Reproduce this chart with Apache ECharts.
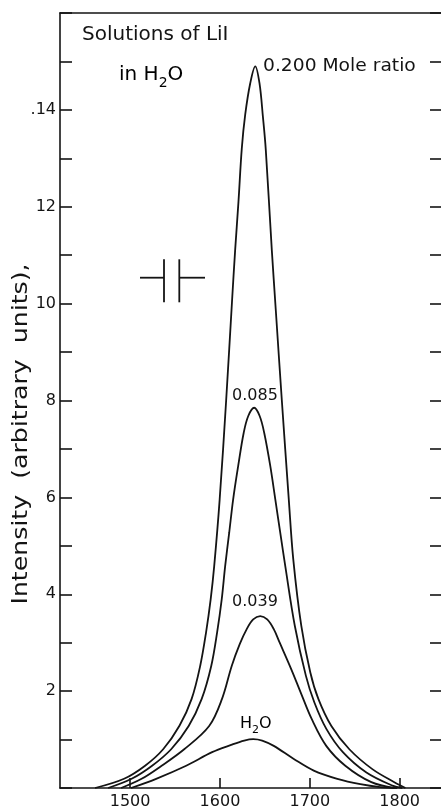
<!DOCTYPE html>
<html>
<head>
<meta charset="utf-8">
<script src="https://cdn.jsdelivr.net/npm/echarts@6/dist/echarts.min.js"></script>
<style>
  html, body { margin: 0; padding: 0; background: #fff; }
  #chart { width: 441px; height: 810px; }
</style>
</head>
<body>
<div id="chart"></div>
<script>
// Raman band of water near 1640 cm-1 for LiI solutions of increasing mole ratio.
// Wavenumbers (cm-1) and intensities (arbitrary units) for each trace.
const wn200  = [1461, 1493.3, 1516.7, 1536.8, 1555.1, 1568.5, 1578, 1584.6, 1589.7, 1593.6, 1599.7, 1606.9, 1613.6, 1616.9, 1620.6, 1624.3, 1628.1, 1633.7, 1639.3,
                1644, 1647.8, 1651, 1657.7, 1662.1, 1668.8, 1676.6, 1681.6, 1690.5, 1700.5, 1709.5, 1724, 1744, 1769.6, 1794.1, 1806.4];
const int200 = [0, 0.19, 0.46, 0.80, 1.29, 1.84, 2.52, 3.22, 3.90, 4.58, 5.96, 8.0, 10.1, 11.1, 12.1, 13.2, 13.9, 14.55, 14.9,
                14.55, 13.86, 13.18, 11.11, 9.88, 8.02, 5.96, 4.72, 3.35, 2.39, 1.84, 1.28, 0.80, 0.39, 0.12, 0];

const wn085  = [1475.5, 1501.7, 1524.5, 1545.7, 1565.2, 1579.7, 1590.3, 1596.9, 1602, 1605.8, 1610.3, 1614.7, 1620.3, 1626.4, 1631.5, 1638.1,
                1644.2, 1649.3, 1656, 1661.6, 1667.1, 1672.7, 1683.3, 1695.6, 1705, 1718.4, 1736.8, 1763, 1791.9, 1803];
const int085 = [0, 0.19, 0.46, 0.80, 1.28, 1.84, 2.52, 3.22, 3.90, 4.58, 5.27, 5.96, 6.65, 7.33, 7.68, 7.85,
                7.68, 7.33, 6.65, 5.96, 5.27, 4.58, 3.35, 2.32, 1.77, 1.22, 0.74, 0.32, 0.05, 0];

const wn039  = [1490, 1512.8, 1535.1, 1560.2, 1588, 1602.3, 1613.1, 1622, 1629.8, 1637, 1644.8,
                1652.6, 1659.9, 1666.5, 1679.4, 1689.9, 1702.2, 1718.3, 1739.5, 1768.5, 1794.1];
const int039 = [0, 0.19, 0.46, 0.80, 1.28, 1.84, 2.52, 2.97, 3.28, 3.48, 3.55,
                3.48, 3.28, 3.0, 2.45, 1.97, 1.42, 0.87, 0.46, 0.12, 0];

const wnH2O  = [1501, 1529, 1562.4, 1591.3, 1612.5, 1627, 1637, 1647, 1659.9, 1682.2, 1704.4, 1730.6, 1756.2, 1778.5, 1797.4];
const intH2O = [0, 0.19, 0.46, 0.74, 0.89, 0.98, 1.01, 0.98, 0.87, 0.60, 0.36, 0.19, 0.08, 0.02, 0];

// Axis ticks and labels
const xTickValues = [1500, 1600, 1700, 1800];
const yLabelValues = [2, 4, 6, 8, 10, 12, 14];
const yLabelTexts = ['2', '4', '6', '8', '10', '12', '.14'];

const FONT = 'DejaVu Sans';
const INK = '#141414';
const X_MIN = 1422, X_MAX = 1846;
const AXIS_LINE = { show: true, onZero: false, lineStyle: { color: INK, width: 1.6 } };

const pairs = (xs, ys) => xs.map((x, i) => [x, ys[i]]);

function trace(name, xs, ys) {
  return {
    name: name,
    type: 'line',
    data: pairs(xs, ys),
    smooth: 0.35,
    symbol: 'none',
    lineStyle: { color: INK, width: 1.8 },
    animation: false,
    silent: true
  };
}

const chart = echarts.init(document.getElementById('chart'), null, { renderer: 'canvas' });

const subRich = function (size, shift) {
  return {
    n: { fontFamily: FONT, fontSize: size, color: INK },
    s: { fontFamily: FONT, fontSize: Math.round(size * 0.68), color: INK, padding: [shift, 0, 0, 0] }
  };
};

chart.setOption({
  backgroundColor: '#fff',
  animation: false,
  grid: { left: 60, right: 0, top: 13, bottom: 21, show: false },
  xAxis: [
    {
      type: 'value',
      min: X_MIN, max: X_MAX,
      axisLine: AXIS_LINE,
      axisTick: { show: true, inside: true, length: 10, customValues: xTickValues, lineStyle: { color: INK, width: 1.6 } },
      axisLabel: {
        customValues: xTickValues, margin: 6, color: INK, fontFamily: FONT, fontSize: 16,
        formatter: function (v) { return String(v); }
      },
      splitLine: { show: false }
    },
    {
      // top frame edge
      type: 'value',
      position: 'top',
      min: X_MIN, max: X_MAX,
      axisLine: AXIS_LINE,
      axisTick: { show: false },
      axisLabel: { show: false },
      splitLine: { show: false }
    }
  ],
  yAxis: [
    {
      type: 'value',
      min: 0, max: 16, interval: 1,
      axisLine: AXIS_LINE,
      axisTick: { show: true, inside: true, length: 12, lineStyle: { color: INK, width: 1.6 } },
      axisLabel: {
        margin: 4, color: INK, fontFamily: FONT, fontSize: 16,
        showMinLabel: true, showMaxLabel: true,
        formatter: function (v) {
          const k = yLabelValues.indexOf(v);
          return k >= 0 ? yLabelTexts[k] : '';
        }
      },
      splitLine: { show: false }
    },
    {
      type: 'value',
      position: 'right',
      min: 0, max: 16, interval: 1,
      axisLine: { show: false },
      axisTick: { show: true, inside: true, length: 11, lineStyle: { color: INK, width: 1.6 } },
      axisLabel: { show: false },
      splitLine: { show: false }
    }
  ],
  series: [
    trace('0.200', wn200, int200),
    trace('0.085', wn085, int085),
    trace('0.039', wn039, int039),
    trace('H2O', wnH2O, intH2O)
  ],
  graphic: [
    // Title block
    { type: 'text', x: 82, y: 34.5, style: { text: 'Solutions of LiI', fontFamily: FONT, fontSize: 20, fill: INK, textAlign: 'left', textVerticalAlign: 'middle' } },
    { type: 'text', x: 119, y: 75, style: { text: '{n|in H}{s|2}{n|O}', rich: subRich(20, 16), textAlign: 'left', textVerticalAlign: 'middle' } },
    // Curve labels
    { type: 'text', x: 263, y: 66.5, scaleX: 1.1, style: { text: '0.200 Mole ratio', fontFamily: FONT, fontSize: 17, fill: INK, textAlign: 'left', textVerticalAlign: 'middle' } },
    { type: 'text', x: 255, y: 396, style: { text: '0.085', fontFamily: FONT, fontSize: 16, fill: INK, textAlign: 'center', textVerticalAlign: 'middle' } },
    { type: 'text', x: 255, y: 601.5, style: { text: '0.039', fontFamily: FONT, fontSize: 16, fill: INK, textAlign: 'center', textVerticalAlign: 'middle' } },
    { type: 'text', x: 240, y: 724, style: { text: '{n|H}{s|2}{n|O}', rich: subRich(16, 13), textAlign: 'left', textVerticalAlign: 'middle' } },
    // Vertical axis title
    { type: 'text', x: 22, y: 434, rotation: Math.PI / 2, scaleX: 1.2, style: { text: 'Intensity  (arbitrary  units),', fontFamily: FONT, fontSize: 21, fill: INK, textAlign: 'center', textVerticalAlign: 'middle' } },
    // Spectral slit width marker
    { type: 'line', shape: { x1: 140, y1: 277.7, x2: 164, y2: 277.7 }, style: { stroke: INK, lineWidth: 1.8 } },
    { type: 'line', shape: { x1: 164, y1: 259.3, x2: 164, y2: 302.3 }, style: { stroke: INK, lineWidth: 1.8 } },
    { type: 'line', shape: { x1: 179.3, y1: 259.3, x2: 179.3, y2: 302.3 }, style: { stroke: INK, lineWidth: 1.8 } },
    { type: 'line', shape: { x1: 179.3, y1: 277.7, x2: 205, y2: 277.7 }, style: { stroke: INK, lineWidth: 1.8 } }
  ]
});
</script>
</body>
</html>
